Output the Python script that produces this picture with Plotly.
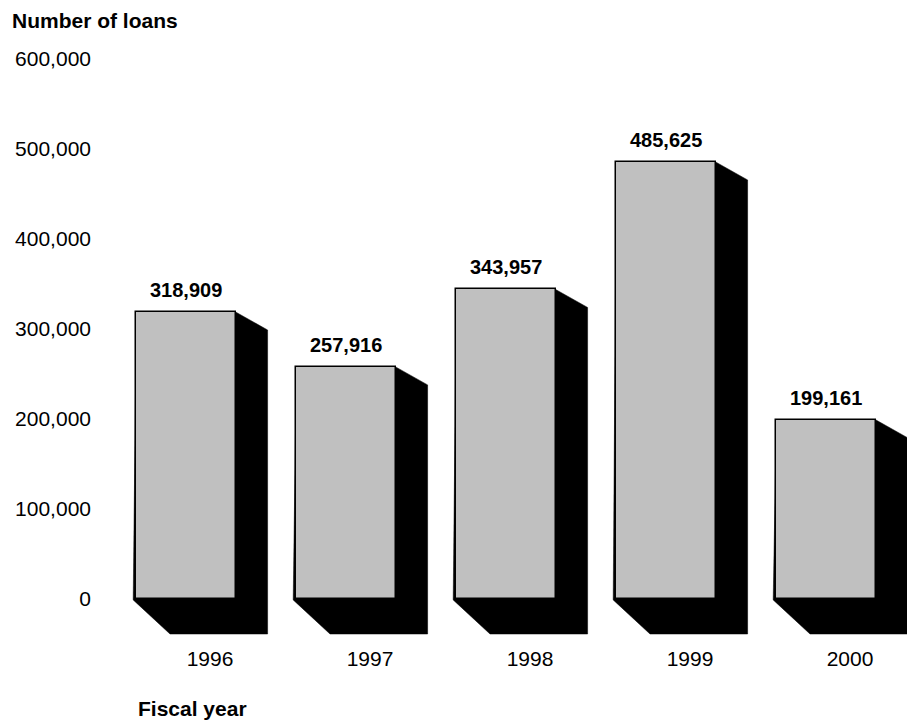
import plotly.graph_objects as go

years = ["1996", "1997", "1998", "1999", "2000"]
loans = [318909, 257916, 343957, 485625, 199161]
value_labels = ["318,909", "257,916", "343,957", "485,625", "199,161"]
y_ticks = [0, 100000, 200000, 300000, 400000, 500000, 600000]
y_tick_text = ["0", "100,000", "200,000", "300,000", "400,000", "500,000", "600,000"]

FONT = "Liberation Sans, Arial, Helvetica, sans-serif"
GRAY = "#C0C0C0"

HALF = 0.31      # half width of the front face (category units)
DX = 0.2         # depth offset of the side face
DY_TOP = 20000   # drop of the top-right depth edge
FLOOR = -38900   # bottom of the floor shadow
FLOOR_DX = 0.21

xs = list(range(len(years)))

fig = go.Figure()
fig.add_trace(go.Bar(
    x=xs, y=loans, width=2 * HALF,
    marker=dict(color=GRAY, line=dict(color="black", width=1.5)),
    hoverinfo="skip", showlegend=False,
))

shapes = []
for i, h in zip(xs, loans):
    L, R = i - HALF, i + HALF
    path = (f"M {L-0.02},{-1000} L {L+FLOOR_DX},{FLOOR} L {R+DX},{FLOOR} "
            f"L {R+DX},{h-DY_TOP} L {R},{h} L {L},{h} Z")
    shapes.append(dict(type="path", path=path, xref="x", yref="y",
                       fillcolor="black", line=dict(color="black", width=0.5),
                       layer="below"))

annotations = []
for i, h, t in zip(xs, loans, value_labels):
    annotations.append(dict(x=i, y=h, text=f"<b>{t}</b>", showarrow=False,
                            xref="x", yref="y", yanchor="bottom", yshift=9,
                            font=dict(family=FONT, size=20, color="black")))

annotations.append(dict(x=-0.111, y=1.065, xref="paper", yref="paper",
                        text="<b>Number of loans</b>", showarrow=False,
                        xanchor="left", yanchor="middle",
                        font=dict(family=FONT, size=21, color="black")))
annotations.append(dict(x=-0.3125, y=-0.11, xref="x", yref="paper",
                        text="<b>Fiscal year</b>", showarrow=False,
                        xanchor="left", yanchor="middle",
                        font=dict(family=FONT, size=21, color="black")))

fig.update_layout(
    width=907, height=725,
    margin=dict(l=100, r=0, t=59, b=81),
    paper_bgcolor="white", plot_bgcolor="white",
    shapes=shapes, annotations=annotations,
    bargap=0,
    xaxis=dict(range=[-0.5375, 4.50625], tickmode="array",
               tickvals=[x + 0.15 for x in xs], ticktext=years,
               showgrid=False, zeroline=False, showline=False, ticks="",
               tickfont=dict(family=FONT, size=21, color="black"),
               fixedrange=True),
    yaxis=dict(range=[-50000, 600000], tickmode="array",
               tickvals=y_ticks, ticktext=y_tick_text,
               showgrid=False, zeroline=False, showline=False, ticks="",
               ticklabelstandoff=8,
               tickfont=dict(family=FONT, size=21, color="black"),
               fixedrange=True),
)

fig.write_html("out.html")
